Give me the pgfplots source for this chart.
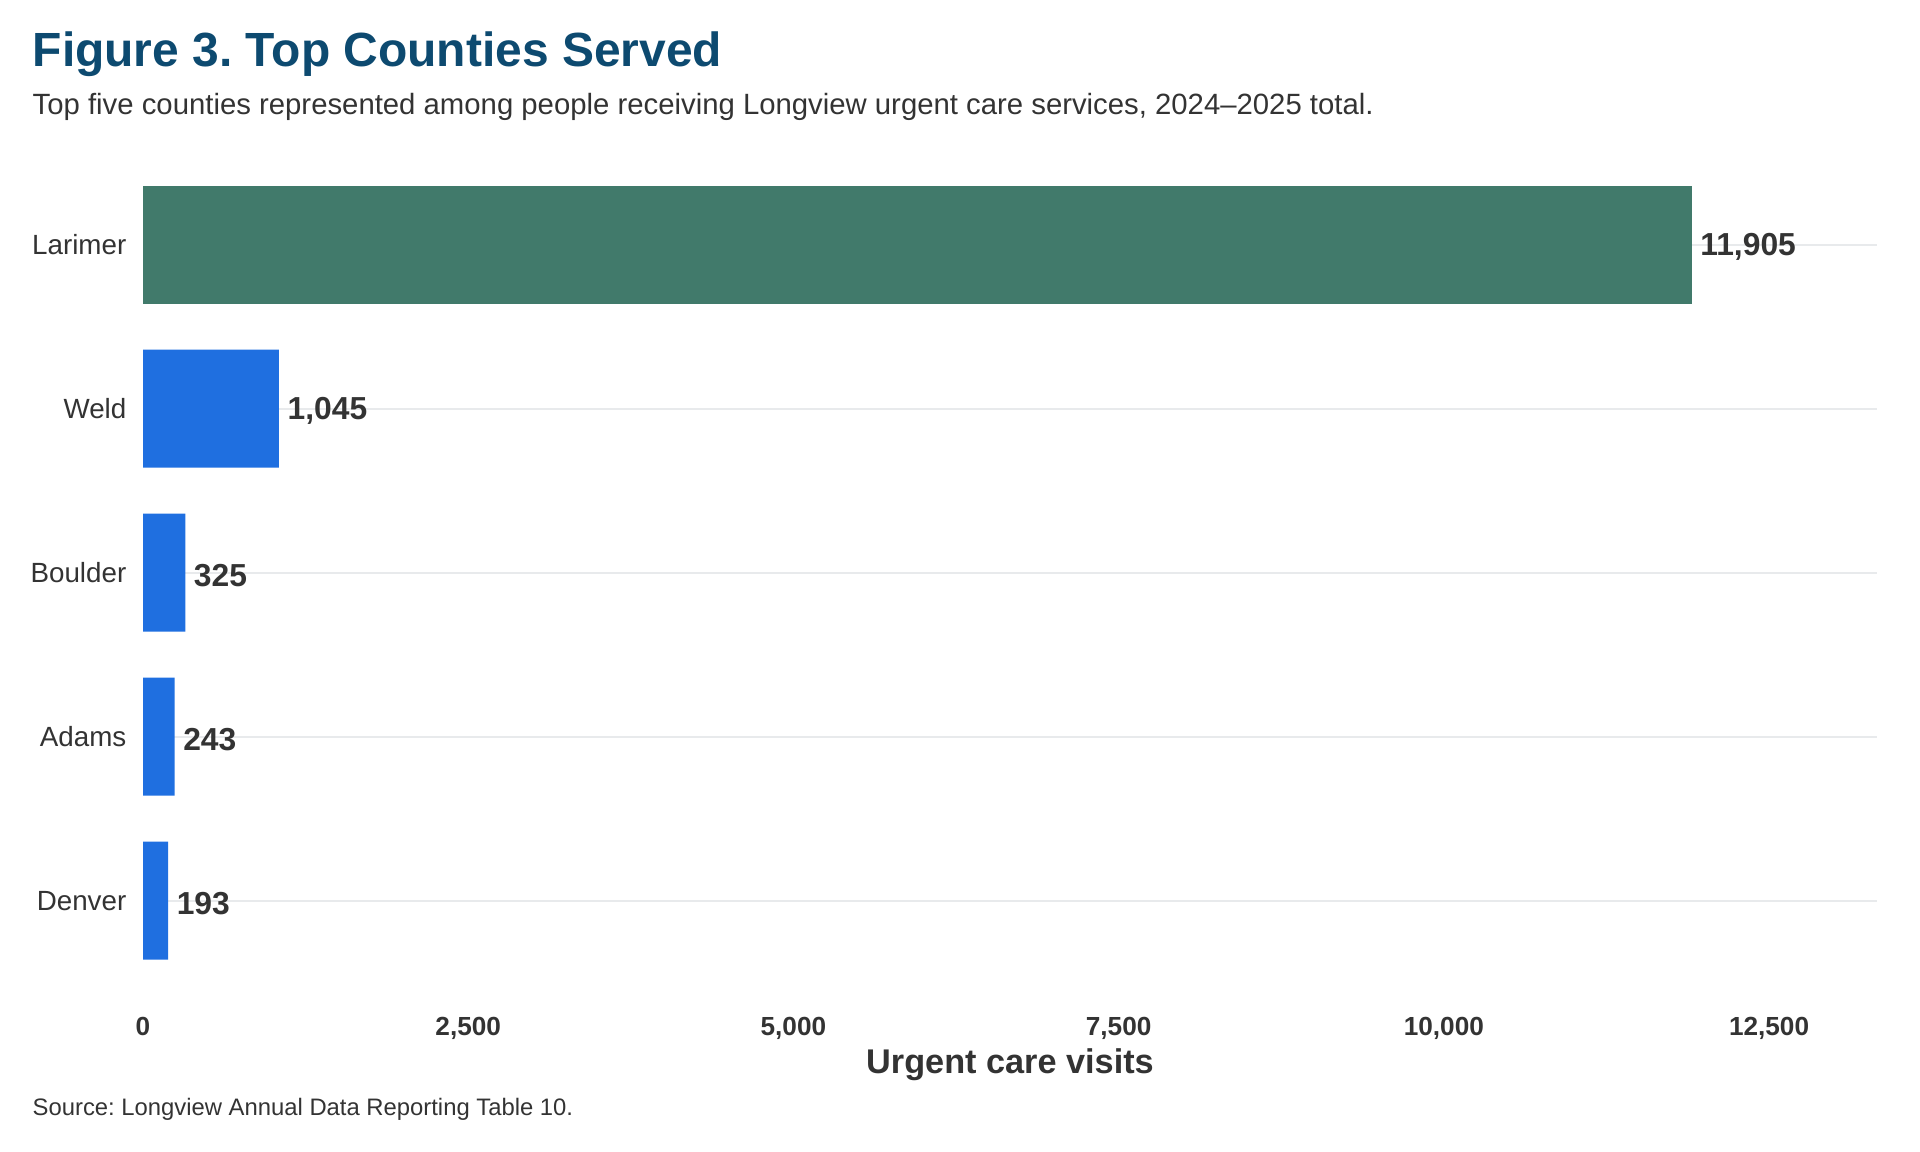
\documentclass[border=0pt]{standalone}
\usepackage{pgfplots}
\pgfplotsset{compat=1.18}
\usepackage{fontspec}
\setmainfont{Liberation Sans}
\frenchspacing

\definecolor{titleblue}{HTML}{0D4A70}
\definecolor{inkgray}{HTML}{333333}
\definecolor{bargreen}{HTML}{417A6B}
\definecolor{barblue}{HTML}{1F6FE0}
\definecolor{gridgray}{HTML}{E8EAEC}

\begin{document}
\begin{tikzpicture}[x=1cm,y=1cm]
  \useasboundingbox (0,0) rectangle (19.2,-11.52);

  % Heading and subheading
  \node[anchor=base west, inner sep=0pt, text=titleblue,
        font=\fontsize{13.65}{16}\selectfont\bfseries]
    at (0.32,-0.67) {Figure 3. Top Counties Served};
  \node[anchor=base west, inner sep=0pt, text=inkgray,
        font=\fontsize{8.34}{10}\selectfont]
    at (0.32,-1.15) {Top five counties represented among people receiving Longview urgent care services, 2024–2025 total.};

  \begin{axis}[
    at={(1.43cm,-9.99cm)}, anchor=south west,
    scale only axis,
    width=17.34cm, height=8.528cm,
    xbar,
    bar width=1.18cm,
    xmin=0, xmax=13330,
    ymin=-0.6, ymax=4.6,
    xtick={0,2500,5000,7500,10000,12500},
    xticklabels={0,{2,500},{5,000},{7,500},{10,000},{12,500}},
    scaled x ticks=false,
    ytick={0,1,2,3,4},
    yticklabels={Denver,Adams,Boulder,Weld,Larimer},
    axis line style={draw=none},
    major tick length=0pt,
    ymajorgrids,
    grid style={draw=gridgray, line width=0.55pt},
    xticklabel style={font=\fontsize{7.45}{9}\selectfont\bfseries, text=inkgray,
                      inner sep=0pt, anchor=north, yshift=-0.17cm},
    yticklabel style={font=\fontsize{7.9}{9}\selectfont, text=inkgray,
                      inner sep=0pt, anchor=east, xshift=-0.16cm},
    point meta=x,
    nodes near coords={\pgfmathprintnumber[fixed,precision=0,1000 sep={,},assume math mode=true]{\pgfplotspointmeta}},
    nodes near coords style={anchor=west, inner sep=0pt, xshift=0.08cm, yshift=-0.025cm,
                             font=\fontsize{9.05}{11}\selectfont\bfseries, text=inkgray},
  ]
    % Home county
    \addplot[fill=bargreen, draw=none, bar shift=0pt] coordinates {(11905,4)};
    % Other counties
    \addplot[fill=barblue, draw=none, bar shift=0pt] coordinates {
      (1045,3) (325,2) (243,1) (193,0)
    };
  \end{axis}

  % Axis title and source note
  \node[anchor=base, inner sep=0pt, text=inkgray,
        font=\fontsize{9.75}{12}\selectfont\bfseries]
    at (10.10,-10.73) {Urgent care visits};
  \node[anchor=base west, inner sep=0pt, text=inkgray,
        font=\fontsize{6.78}{8}\selectfont]
    at (0.32,-11.15) {Source: Longview Annual Data Reporting Table 10.};
\end{tikzpicture}
\end{document}
